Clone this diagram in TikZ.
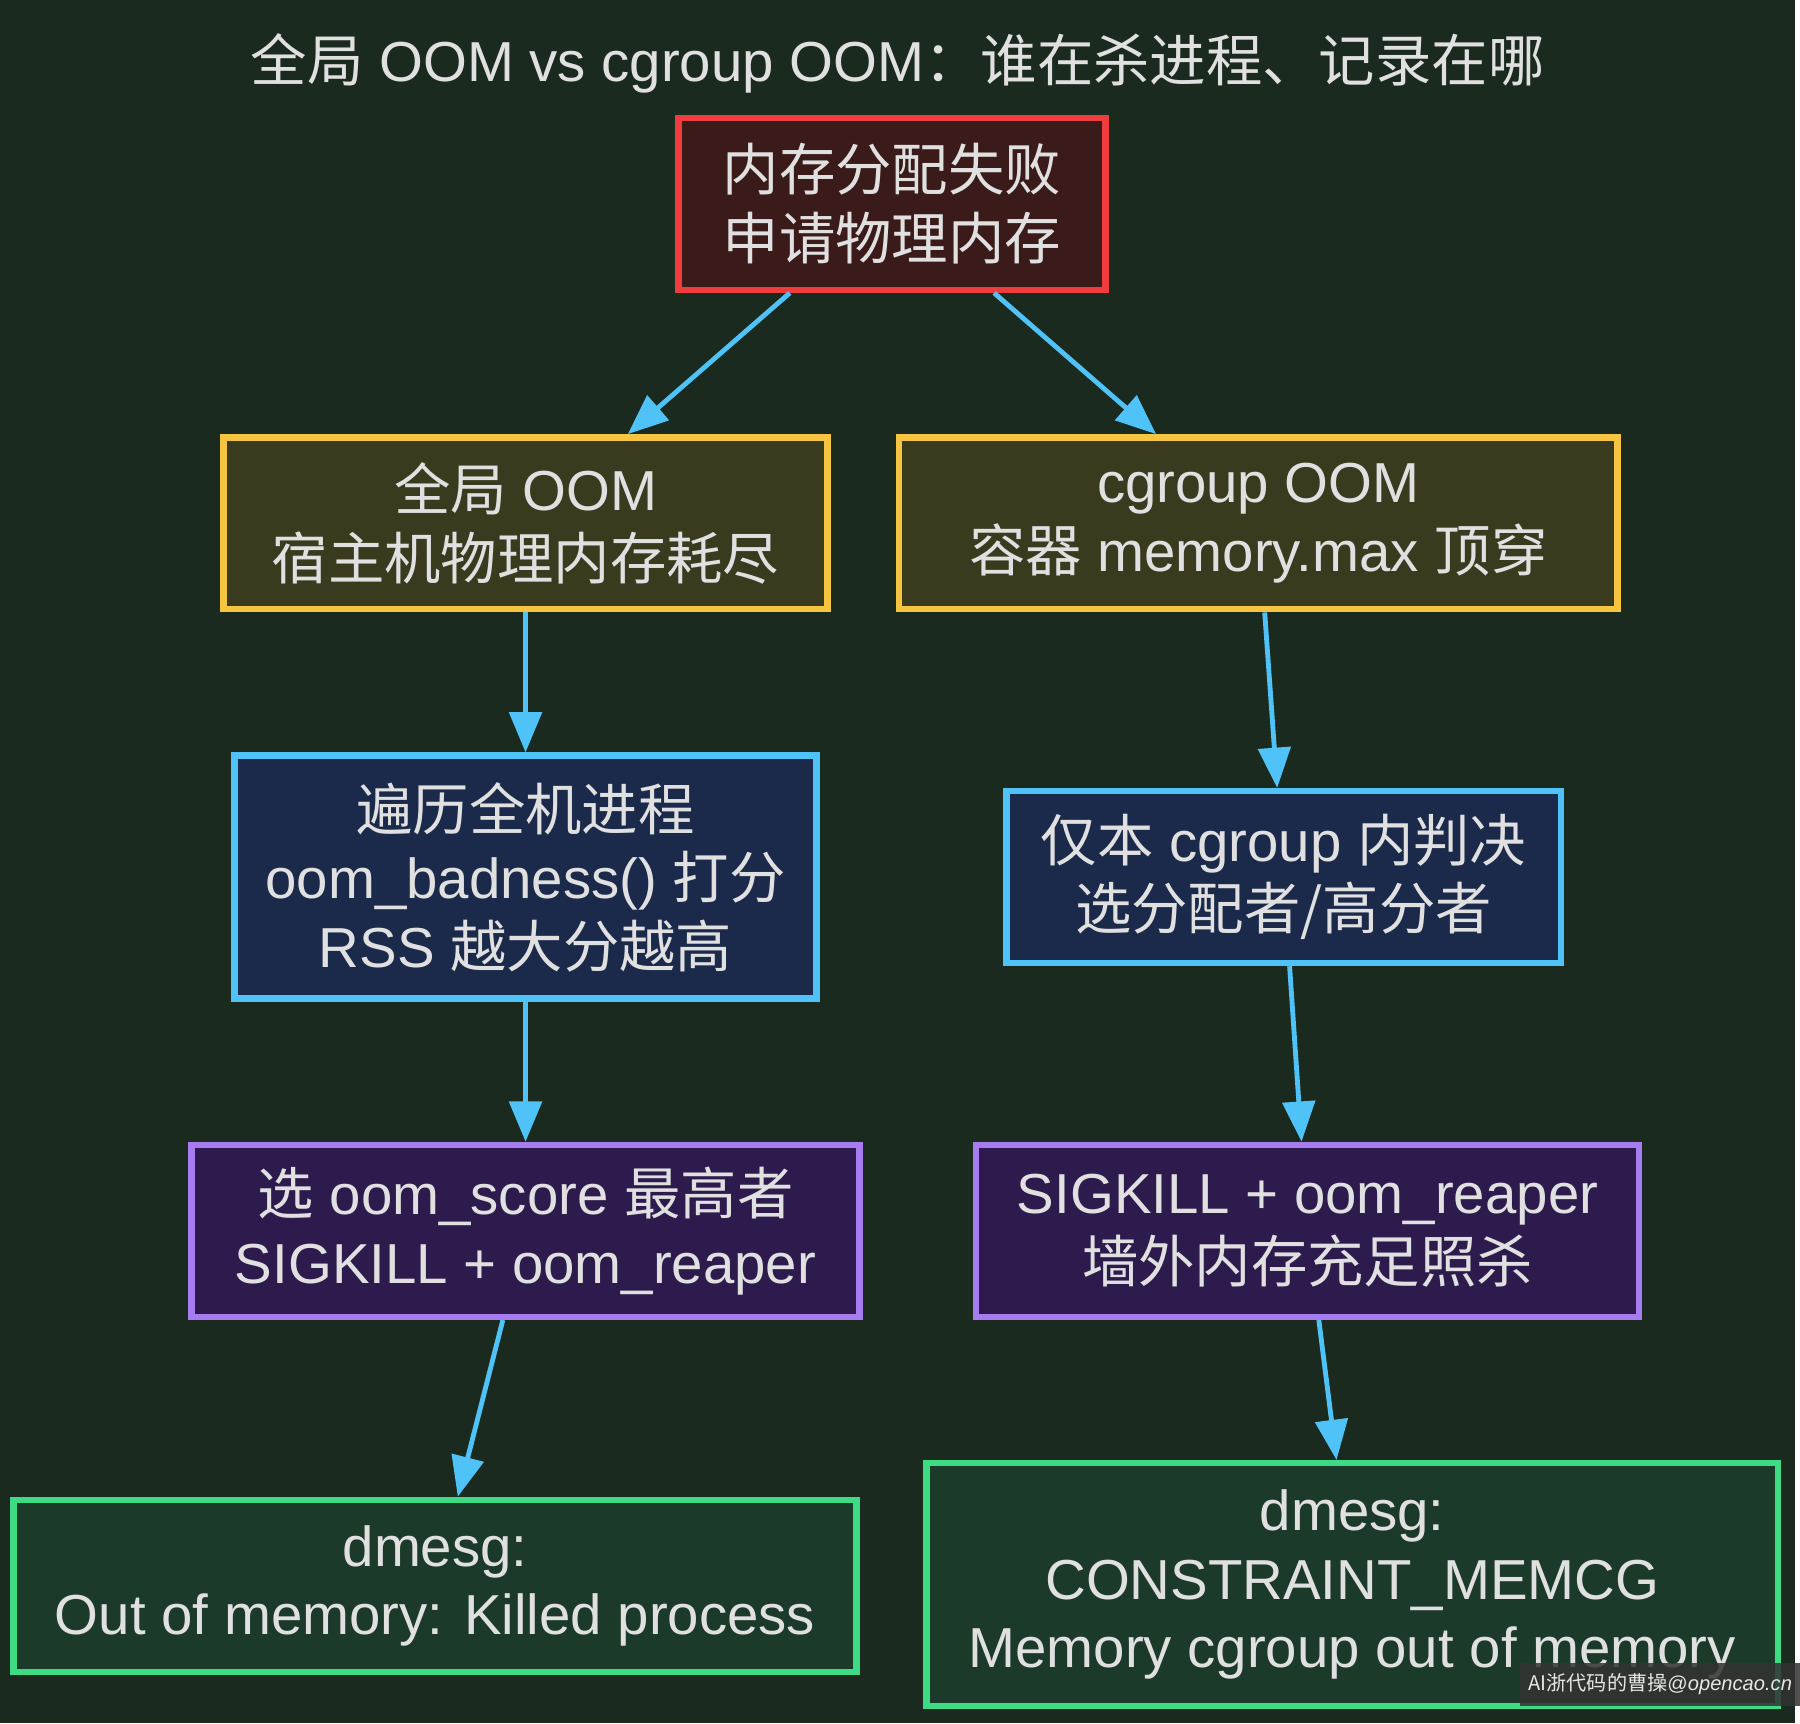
\documentclass[tikz,border=0pt]{standalone}
\usepackage{fontspec}
\setmainfont{Liberation Sans}
\newfontfamily\cjk{Noto Sans CJK SC}
\newcommand{\zh}[1]{{\cjk #1}}
\usetikzlibrary{arrows.meta}
\definecolor{bgc}{HTML}{1B2A1E}
\definecolor{txt}{HTML}{E0E0E0}
\definecolor{redb}{HTML}{F03C3C}\definecolor{redf}{HTML}{3B1A1A}
\definecolor{yelb}{HTML}{F5C542}\definecolor{yelf}{HTML}{3A3A1E}
\definecolor{blub}{HTML}{4FC3F7}\definecolor{bluf}{HTML}{1B2A4A}
\definecolor{purb}{HTML}{A67CF0}\definecolor{purf}{HTML}{2D1B4E}
\definecolor{grnb}{HTML}{3DDC84}\definecolor{grnf}{HTML}{1B3A2A}

\begin{document}
\begin{tikzpicture}[x=0.01cm,y=-0.01cm,>={Triangle[length=10pt,width=8pt]},
  box/.style={draw,line width=1.6pt,align=center,text=txt,inner sep=0pt,
    font=\fontsize{14}{17}\selectfont},
  edge/.style={->,draw=blub,line width=1.2pt}]

\fill[bgc] (0,0) rectangle (1568,1505);

\node[text=txt,font=\fontsize{14}{17}\selectfont] (title) at (784,55)
  {\zh{全局} OOM vs cgroup OOM\zh{：谁在杀进程、记录在哪}};

\node[box,draw=redb,fill=redf,minimum width=3.73cm,minimum height=1.5cm] (alloc) at (779,178)
  {\zh{内存分配失败}\\\zh{申请物理内存}};
\node[box,draw=yelb,fill=yelf,minimum width=5.27cm,minimum height=1.5cm] (glob) at (459,457)
  {\zh{全局} OOM\\\zh{宿主机物理内存耗尽}};
\node[box,draw=yelb,fill=yelf,minimum width=6.27cm,minimum height=1.5cm] (cgrp) at (1099,457)
  {cgroup OOM\\\zh{容器} memory.max \zh{顶穿}};
\node[box,draw=blub,fill=bluf,minimum width=5.08cm,minimum height=2.12cm] (scan) at (459,766)
  {\zh{遍历全机进程}\\oom\_badness() \zh{打分}\\RSS \zh{越大分越高}};
\node[box,draw=blub,fill=bluf,minimum width=4.84cm,minimum height=1.5cm] (judge) at (1121,766)
  {\zh{仅本} cgroup \zh{内判决}\\\zh{选分配者/高分者}};
\node[box,draw=purb,fill=purf,minimum width=5.83cm,minimum height=1.5cm] (killg) at (459,1075)
  {\zh{选} oom\_score \zh{最高者}\\SIGKILL + oom\_reaper};
\node[box,draw=purb,fill=purf,minimum width=5.79cm,minimum height=1.5cm] (killc) at (1142,1075)
  {SIGKILL + oom\_reaper\\\zh{墙外内存充足照杀}};
\node[box,draw=grnb,fill=grnf,minimum width=7.36cm,minimum height=1.5cm] (logg) at (380,1385)
  {dmesg:\\Out of memory: Killed process};
\node[box,draw=grnb,fill=grnf,minimum width=7.43cm,minimum height=2.12cm] (logc) at (1181,1384)
  {dmesg:\\CONSTRAINT\_MEMCG\\Memory cgroup out of memory};

\draw[edge] (alloc) -- (glob);
\draw[edge] (alloc) -- (cgrp);
\draw[edge] (glob) -- (scan);
\draw[edge] (cgrp) -- (judge);
\draw[edge] (scan) -- (killg);
\draw[edge] (judge) -- (killc);
\draw[edge] (killg) -- (logg);
\draw[edge] (killc) -- (logc);

% watermark
\node[fill=black!80,opacity=0.85,text opacity=1,text=txt!80,inner sep=2pt,
  font=\fontsize{5}{6}\selectfont,minimum width=2.06cm,minimum height=0.38cm] (mark) at (1450,1471)
  {\zh{AI浙代码的曹操}@\textit{opencao.cn}};
\end{tikzpicture}
\end{document}
